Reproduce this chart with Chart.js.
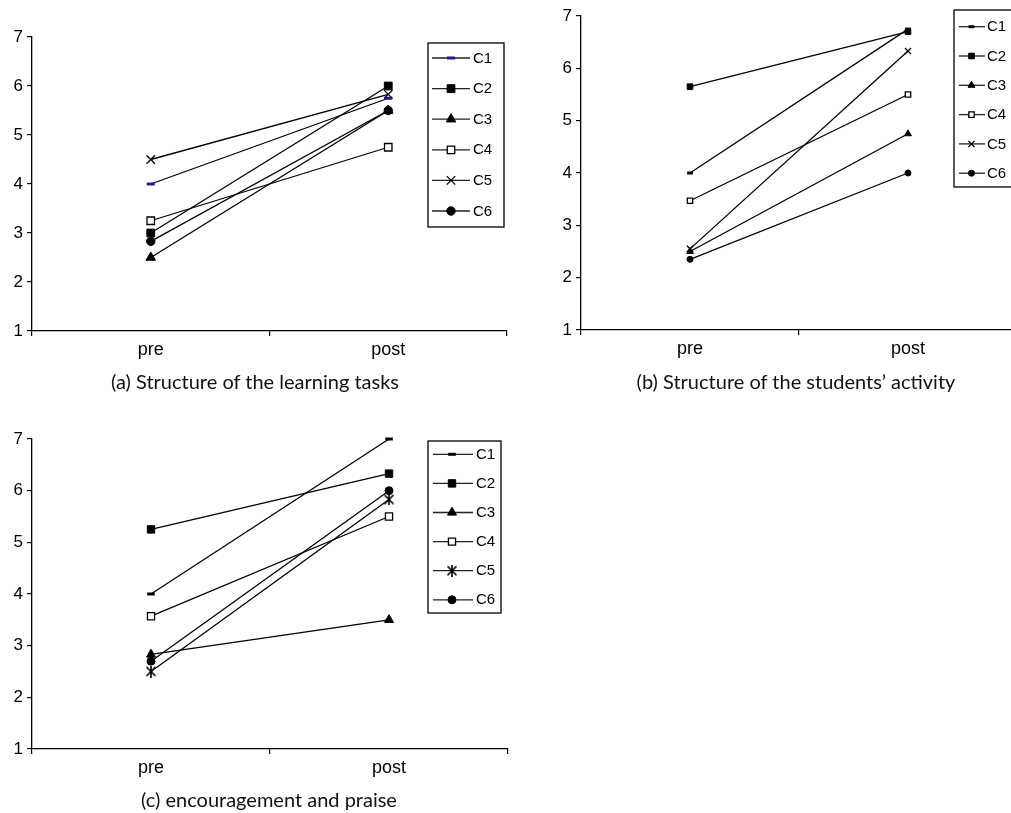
<!DOCTYPE html>
<html>
<head>
<meta charset="utf-8">
<script src="https://cdn.jsdelivr.net/npm/chart.js@4/dist/chart.umd.min.js"></script>
<style>
  html, body { margin: 0; padding: 0; background: #fff; overflow: hidden; width: 1011px; height: 813px; }
  .panel { position: absolute; }
  .cap { position: absolute; font-family: Lato, "Open Sans", sans-serif; font-size: 20px; color: #111; white-space: nowrap; transform: translate(-50%, -50%); }
</style>
</head>
<body>
<canvas id="chartA" class="panel" style="left:0px;top:0px" width="520" height="380"></canvas>
<canvas id="chartB" class="panel" style="left:520px;top:0px" width="520" height="400"></canvas>
<canvas id="chartC" class="panel" style="left:0px;top:420px" width="540" height="393"></canvas>
<div class="cap" style="left:255px;top:381px">(a) Structure of the learning tasks</div>
<div class="cap" style="left:796px;top:381px">(b) Structure of the students’ activity</div>
<div class="cap" style="left:269px;top:799px">(c) encouragement and praise</div>
<script>
// Categories and series
const categories = ['pre', 'post'];
const seriesNames = ['C1', 'C2', 'C3', 'C4', 'C5', 'C6'];
const yTicks = [1, 2, 3, 4, 5, 6, 7];

// (a) Structure of the learning tasks
const tasksPre  = [4.0, 3.0, 2.5, 3.25, 4.5, 2.83];
const tasksPost = [5.75, 6.0, 5.5, 4.75, 5.83, 5.5];

// (b) Structure of the students' activity
const activityPre  = [4.0, 5.65, 2.5, 3.47, 2.55, 2.35];
const activityPost = [6.75, 6.7, 4.75, 5.5, 6.33, 4.0];

// (c) encouragement and praise
const praisePre  = [4.0, 5.25, 2.83, 3.57, 2.5, 2.7];
const praisePost = [7.0, 6.33, 3.5, 5.5, 5.83, 6.0];

// asterisk marker (X with a vertical bar)
function asteriskMarker(size) {
  const c = document.createElement('canvas');
  c.width = size; c.height = size;
  const g = c.getContext('2d');
  g.strokeStyle = '#000'; g.lineWidth = 1.6;
  const m = 1.5;
  g.beginPath();
  g.moveTo(m, m); g.lineTo(size - m, size - m);
  g.moveTo(size - m, m); g.lineTo(m, size - m);
  g.moveTo(size / 2, 0); g.lineTo(size / 2, size);
  g.stroke();
  return c;
}

function markerStyles(scale, c1Color, c5Style) {
  return [
    { pointStyle: 'line', pointRadius: 4 * scale, pointBorderWidth: 3, pointBorderColor: c1Color, pointBackgroundColor: c1Color },
    { pointStyle: 'rect', pointRadius: 5.5 * scale, pointBorderWidth: 1, pointBorderColor: '#000', pointBackgroundColor: '#000' },
    { pointStyle: 'triangle', pointRadius: 5.5 * scale, pointBorderWidth: 1, pointBorderColor: '#000', pointBackgroundColor: '#000' },
    { pointStyle: 'rect', pointRadius: 5.3 * scale, pointBorderWidth: 1.3, pointBorderColor: '#000', pointBackgroundColor: '#fff' },
    { pointStyle: c5Style, pointRadius: 6 * scale, pointBorderWidth: 1.3, pointBorderColor: '#000', pointBackgroundColor: '#000' },
    { pointStyle: 'circle', pointRadius: 4.2 * scale, pointBorderWidth: 1, pointBorderColor: '#000', pointBackgroundColor: '#000' }
  ];
}

function buildDatasets(pre, post, styles) {
  return seriesNames.map((name, i) => Object.assign({
    label: name,
    data: [pre[i], post[i]],
    borderColor: '#000',
    borderWidth: 1.3,
    fill: false,
    tension: 0,
    clip: false
  }, styles[i]));
}

// legend drawn as a framed box over the plot
const boxLegend = {
  id: 'boxLegend',
  afterDatasetsDraw(chart, args, o) {
    if (!o || o.x === undefined) return;
    const ctx = chart.ctx;
    ctx.save();
    ctx.fillStyle = '#fff';
    ctx.fillRect(o.x, o.y, o.w, o.h);
    ctx.strokeStyle = '#000';
    ctx.lineWidth = 1.3;
    ctx.strokeRect(o.x, o.y, o.w, o.h);
    chart.data.datasets.forEach((ds, i) => {
      const y = o.first + i * o.step;
      ctx.strokeStyle = '#222';
      ctx.lineWidth = 1.3;
      ctx.beginPath();
      ctx.moveTo(o.lineX0, y);
      ctx.lineTo(o.lineX1, y);
      ctx.stroke();
      ctx.fillStyle = ds.pointBackgroundColor;
      ctx.strokeStyle = ds.pointBorderColor;
      ctx.lineWidth = ds.pointBorderWidth;
      Chart.helpers.drawPoint(ctx, {
        pointStyle: ds.pointStyle,
        radius: ds.pointRadius * (o.markerScale || 1),
        rotation: 0,
        borderWidth: ds.pointBorderWidth
      }, o.markerX, y);
      ctx.fillStyle = '#000';
      ctx.font = o.fontSize + 'px "Liberation Sans", Arial, sans-serif';
      ctx.textBaseline = 'middle';
      ctx.textAlign = 'left';
      ctx.fillText(ds.label, o.textX, y + 0.5);
    });
    ctx.restore();
  }
};

function makeChart(id, pre, post, styles, area, legend) {
  const canvas = document.getElementById(id);
  const W = canvas.width, H = canvas.height;
  return new Chart(canvas, {
    type: 'line',
    data: { labels: categories, datasets: buildDatasets(pre, post, styles) },
    plugins: [boxLegend],
    options: {
      responsive: false,
      animation: false,
      events: [],
      layout: { padding: { top: area.top, right: W - area.right, left: 0, bottom: 0 } },
      plugins: {
        legend: { display: false },
        tooltip: { enabled: false },
        boxLegend: legend
      },
      scales: {
        x: {
          type: 'category',
          offset: true,
          grid: { display: true, offset: true, drawOnChartArea: false, drawTicks: true, tickLength: 5, color: '#000', lineWidth: 1.2 },
          border: { display: true, color: '#000', width: 1.3 },
          ticks: { color: '#000', padding: 3, font: { family: '"Liberation Sans", Arial, sans-serif', size: 18 } },
          afterFit(scale) { scale.height = H - area.bottom; }
        },
        y: {
          min: yTicks[0],
          max: yTicks[yTicks.length - 1],
          afterBuildTicks(scale) { scale.ticks = yTicks.map(v => ({ value: v })); },
          grid: { display: true, drawOnChartArea: false, drawTicks: true, tickLength: 5, color: '#000', lineWidth: 1.2 },
          border: { display: true, color: '#000', width: 1.3 },
          ticks: { color: '#000', padding: 4, font: { family: '"Liberation Sans", Arial, sans-serif', size: 17 } },
          afterFit(scale) { scale.width = area.left; }
        }
      }
    }
  });
}

makeChart('chartA', tasksPre, tasksPost, markerStyles(1, '#1c1c86', 'crossRot'),
  { left: 32, right: 507, top: 37, bottom: 331 },
  { x: 428, y: 43, w: 76, h: 184, first: 58, step: 30.6, lineX0: 432, lineX1: 470, markerX: 451, textX: 473, fontSize: 15 });

makeChart('chartB', activityPre, activityPost, markerStyles(0.72, '#000', 'crossRot'),
  { left: 61, right: 497, top: 16, bottom: 330 },
  { x: 434, y: 10, w: 70, h: 177, first: 26.7, step: 29.3, lineX0: 439, lineX1: 465, markerX: 451.5, textX: 467, fontSize: 15 });

makeChart('chartC', praisePre, praisePost, markerStyles(0.95, '#000', asteriskMarker(12)),
  { left: 32, right: 508, top: 19, bottom: 329 },
  { x: 428, y: 21, w: 73, h: 172, first: 34.3, step: 29.1, lineX0: 433, lineX1: 473, markerX: 452, textX: 476, fontSize: 15 });
</script>
</body>
</html>
